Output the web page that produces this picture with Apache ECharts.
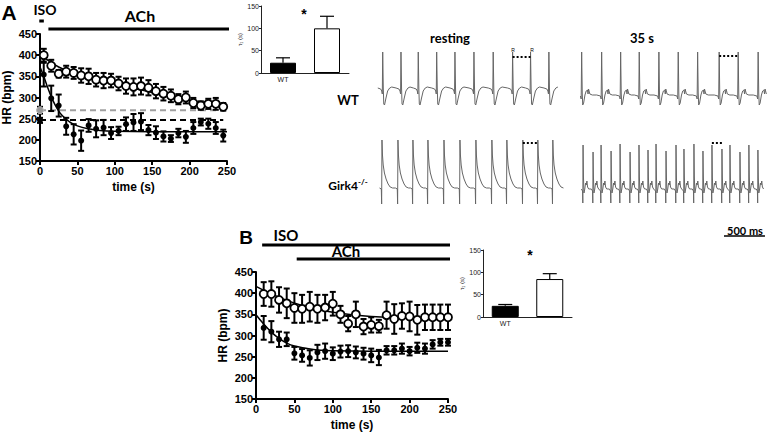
<!DOCTYPE html>
<html><head><meta charset="utf-8">
<script src="https://cdn.jsdelivr.net/npm/echarts@6/dist/echarts.min.js"></script>
<style>html,body{margin:0;padding:0;background:#fff}#c{width:768px;height:433px}</style>
</head><body><div id="c"></div>
<script>
// ---------- Panel A data ----------
const tA = [5,15,25,35,45,55,65,75,85,95,105,115,125,135,145,155,165,175,185,195,205,215,225,235,245];
const hrA_open = [400,375,356,361,358,352,350,342,340,340,333,327,325,327,323,315,309,304,296,300,287,281,285,285,278];
const errA_open = [15,14,9,14,14,17,18,16,18,16,16,18,20,20,18,17,16,15,12,14,12,10,12,14,9];
const hrA_fill = [354,298,281,232,213,198,234,226,229,216,221,237,241,243,223,217,208,203,216,207,228,242,238,228,210];
const errA_fill = [28,30,26,20,24,24,15,20,18,14,10,16,20,20,12,15,12,8,10,14,14,8,12,14,14];
const baseA_fill = [0, 246, 6];
const baseA_grey = [0, 270, 8];
const fitA_open = [[0,402],[25,372],[50,355],[100,332],[150,312],[200,293],[250,274]];
const fitA_fill = [[0,372],[5,350],[10,325],[15,302],[20,283],[25,268],[30,257],[40,242],[50,233],[65,226],[80,222],[100,220],[150,219],[250,219]];
const dashA_grey = [[0,270],[245,270]];
const dashA_black = [[0,247],[245,247]];
const isoA = [3, 9];
const achA = [15, 254];

// ---------- Panel B data ----------
const tB = [10,20,30,40,50,60,70,80,90,100,110,120,130,140,150,160,170,180,190,200,210,220,230,240,250];
const hrB_open = [398,398,384,376,365,363,368,363,366,375,350,328,350,321,325,322,348,339,346,345,337,343,343,343,343];
const errB_open = [28,30,30,35,35,33,35,33,30,28,20,18,30,18,18,15,32,35,30,35,35,30,30,30,30];
const hrB_fill = [318,309,291,291,258,253,247,260,263,257,262,263,260,257,253,248,265,265,269,263,271,269,279,284,284];
const errB_fill = [28,25,18,16,15,15,18,18,18,15,14,14,14,14,16,18,10,10,12,10,12,12,10,8,8];
const fitB_open = [[0,416],[20,398],[40,383],[60,371],[80,362],[100,355],[125,349],[150,345],[200,341],[250,340]];
const fitB_fill = [[0,349],[10,327],[20,308],[30,293],[40,282],[50,275],[65,270],[80,266],[100,264],[150,263],[250,263]];
const isoB = [8, 254];
const achB = [53, 254];

// ---------- Tau insets ----------
const tauCats = ['WT', 'Girk4'];
const tauA = [23, 100];
const tauA_err = [11, 27];
const tauB = [25, 85];
const tauB_err = [3, 12];

// ---------- ECG traces (ms, amplitude) ----------
const ecgSpan = 2320;
const peaksWTrest = [82,305,516,741,964,1196,1431,1668,1887,2111];
const peaksWT35 = [57,301,533,760,1000,1236,1473,1736,1968,2212];
const peaksGrest = [73,268,451,634,830,1025,1220,1415,1598,1793,1976,2159];
const peaksG35 = [73,195,293,415,525,647,756,866,964,1086,1208,1305,1427,1537,1647,1769,1867,1989,2098,2208];
const heightsG35 = [62,55,62,56,63,55,62,57,63,56,62,58,63,56,62,58,62,55,62,57];
const beatWTrest = [[-60,20],[-25,19],[-12,17],[-5,14],[0,56],[7,20],[13,4],[22,3],[40,10],[60,17],[85,20],[110,21]];
const beatWT35 = [[-60,13],[-15,12],[-6,9],[0,56],[7,15],[13,3],[24,5],[40,13],[55,17],[70,18],[78,14],[84,19],[100,14],[130,13]];
const beatGrest = [[-30,19],[-8,18],[-4,3],[0,67],[6,52],[15,42],[30,34],[50,28],[75,23],[100,20],[130,19]];
const beatG35 = [[-20,18],[-5,16],[-2,4],[1,62],[6,30],[12,14],[22,18],[32,24],[40,22],[48,26],[56,20],[70,18]];
const spanWTrest = [12, 2294];
const spanWT35 = [0, 2320];
const spanGrest = [12, 2294];
const spanG35 = [20, 2320];
const rrWTrest = [[1668,51],[1887,51]];
const rrWT35 = [[1736,52],[1968,52]];
const rrGrest = [[1793,64],[1976,64]];
const rrG35 = [[1647,64],[1769,64]];
const scaleBar = [[1795,-29],[2295,-29]];

function buildTrace(peaks, beat, span, heights) {
  const out = [];
  peaks.forEach((p, i) => {
    beat.forEach(([dt, v]) => {
      let val = v;
      if (heights && dt >= 0 && dt <= 2 && v > 40) val = heights[i];
      const t = p + dt;
      if (t >= span[0] && t <= span[1]) out.push([t, val]);
    });
  });
  return out;
}

function errSeries(xi, yi, data, cap, lw, upperOnly) {
  return {
    type: 'custom', xAxisIndex: xi, yAxisIndex: yi, data: data, z: 3, clip: false,
    renderItem: function (params, api) {
      const x = api.value(0), lo = api.value(1), hi = api.value(2);
      const a = api.coord([x, hi]), b = api.coord([x, lo]);
      const st = { stroke: '#000', lineWidth: lw };
      const ch = [
        { type: 'line', shape: { x1: a[0], y1: a[1], x2: b[0], y2: b[1] }, style: st },
        { type: 'line', shape: { x1: a[0] - cap / 2, y1: a[1], x2: a[0] + cap / 2, y2: a[1] }, style: st }
      ];
      if (!upperOnly) ch.push({ type: 'line', shape: { x1: b[0] - cap / 2, y1: b[1], x2: b[0] + cap / 2, y2: b[1] }, style: st });
      return { type: 'group', children: ch };
    }
  };
}

const F = 'Liberation Sans, Arial, sans-serif';
const FC = 'Lato, Open Sans, sans-serif';

function mainX(gi) {
  return {
    gridIndex: gi, type: 'value', min: 0, max: 250, interval: 50,
    name: 'time (s)', nameLocation: 'middle', nameGap: 20,
    nameTextStyle: { fontFamily: F, fontWeight: 'bold', fontSize: 12, color: '#000' },
    axisLine: { show: true, onZero: false, lineStyle: { color: '#000', width: 2 } },
    axisTick: { show: true, length: 4, lineStyle: { color: '#000', width: 2 } },
    axisLabel: { color: '#000', fontWeight: 'bold', fontSize: 11, fontFamily: F, margin: 4 },
    splitLine: { show: false }
  };
}
function mainY(gi) {
  return {
    gridIndex: gi, type: 'value', min: 150, max: 450, interval: 50,
    name: 'HR (bpm)', nameLocation: 'middle', nameGap: 27,
    nameTextStyle: { fontFamily: F, fontWeight: 'bold', fontSize: 12, color: '#000' },
    axisLine: { show: true, onZero: false, lineStyle: { color: '#000', width: 2 } },
    axisTick: { show: true, length: 4, lineStyle: { color: '#000', width: 2 } },
    axisLabel: { color: '#000', fontWeight: 'bold', fontSize: 11, fontFamily: F, margin: 3 },
    splitLine: { show: false }
  };
}
function hiddenX(gi, min, max) {
  return { gridIndex: gi, type: 'value', min: min, max: max, show: false };
}
function hiddenY(gi, min, max, inverse) {
  return { gridIndex: gi, type: 'value', min: min, max: max, show: false, inverse: !!inverse };
}
const supRich = { s: { fontSize: 5, verticalAlign: 'top', padding: [0, 0, 4, 0], fontFamily: F, color: '#222' }, n: { fontSize: 7, fontFamily: F, color: '#222' } };
function insetX(gi) {
  return {
    gridIndex: gi, type: 'category', data: tauCats,
    axisLine: { show: true, lineStyle: { color: '#222', width: 1 } },
    axisTick: { show: false },
    axisLabel: { margin: 3, formatter: v => v === 'Girk4' ? '{n|Girk4}{s|-/-}' : '{n|' + v + '}', rich: supRich },
    splitLine: { show: false }
  };
}
function insetY(gi) {
  return {
    gridIndex: gi, type: 'value', min: 0, max: 150, interval: 50,
    name: 'τ\u2081 (s)', nameLocation: 'middle', nameGap: 15,
    nameTextStyle: { fontFamily: F, fontSize: 6, color: '#222' },
    axisLine: { show: true, lineStyle: { color: '#222', width: 1 } },
    axisTick: { show: true, length: 2, lineStyle: { color: '#222', width: 1 } },
    axisLabel: { fontSize: 7, fontFamily: F, color: '#222', margin: 2 },
    splitLine: { show: false }
  };
}

const openStyle = { color: '#fff', borderColor: '#000', borderWidth: 1.8, opacity: 1 };
const fillStyle = { color: '#000', opacity: 1 };
const lineStyleFit = { color: '#000', width: 1.5 };

const series = [];
// Panel A (grid 0, axis 0)
series.push({ type: 'line', xAxisIndex: 0, yAxisIndex: 0, data: dashA_grey, showSymbol: false, lineStyle: { color: '#a0a0a0', width: 2, type: [6, 4] }, z: 1 });
series.push({ type: 'line', xAxisIndex: 0, yAxisIndex: 0, data: dashA_black, showSymbol: false, lineStyle: { color: '#000', width: 2, type: [6, 4] }, z: 1 });
series.push({ type: 'line', xAxisIndex: 0, yAxisIndex: 0, data: fitA_open, smooth: 0.4, showSymbol: false, lineStyle: lineStyleFit, z: 2 });
series.push({ type: 'line', xAxisIndex: 0, yAxisIndex: 0, data: fitA_fill, smooth: 0.4, showSymbol: false, lineStyle: lineStyleFit, z: 2 });
series.push(errSeries(0, 0, tA.map((t, i) => [t, hrA_open[i] - errA_open[i], hrA_open[i] + errA_open[i]]), 6, 2, false));
series.push(errSeries(0, 0, tA.map((t, i) => [t, hrA_fill[i] - errA_fill[i], hrA_fill[i] + errA_fill[i]]), 6, 2, false));
series.push(errSeries(0, 0, [[baseA_fill[0], baseA_fill[1] - baseA_fill[2], baseA_fill[1] + baseA_fill[2]], [baseA_grey[0], baseA_grey[1] - baseA_grey[2], baseA_grey[1] + baseA_grey[2]]], 6, 2, false));
series.push({ type: 'scatter', xAxisIndex: 0, yAxisIndex: 0, data: tA.map((t, i) => [t, hrA_fill[i]]), symbol: 'circle', symbolSize: 6, itemStyle: fillStyle, z: 4 });
series.push({ type: 'scatter', xAxisIndex: 0, yAxisIndex: 0, data: [[baseA_fill[0], baseA_fill[1]]], symbol: 'circle', symbolSize: 6, itemStyle: fillStyle, z: 4 });
series.push({ type: 'scatter', xAxisIndex: 0, yAxisIndex: 0, data: [[baseA_grey[0], baseA_grey[1]]], symbol: 'circle', symbolSize: 7, itemStyle: { color: '#999', borderColor: '#bbb', borderWidth: 1, opacity: 1 }, z: 4 });
series.push({ type: 'scatter', xAxisIndex: 0, yAxisIndex: 0, data: tA.map((t, i) => [t, hrA_open[i]]), symbol: 'circle', symbolSize: 8, itemStyle: openStyle, z: 5 });
// A annotation (grid 1, axis 1)
series.push({ type: 'line', xAxisIndex: 1, yAxisIndex: 1, data: [[isoA[0], 16], [isoA[1], 16]], showSymbol: false, clip: false, lineStyle: { color: '#000', width: 3 } });
series.push({ type: 'line', xAxisIndex: 1, yAxisIndex: 1, data: [[achA[0], 24], [achA[1], 24]], showSymbol: false, clip: false, lineStyle: { color: '#000', width: 3 } });
// A inset (grid 2, axis 2)
series.push({ type: 'bar', xAxisIndex: 2, yAxisIndex: 2, barWidth: 26,
  data: tauA.map((v, i) => ({ value: v, itemStyle: i === 0 ? { color: '#000', borderColor: '#000', borderWidth: 1 } : { color: '#fff', borderColor: '#000', borderWidth: 1 } })) });
series.push(errSeries(2, 2, tauA.map((v, i) => [i, v, v + tauA_err[i]]), 14, 1.2, true));
// Panel B (grid 3, axis 3)
series.push({ type: 'line', xAxisIndex: 3, yAxisIndex: 3, data: fitB_open, smooth: 0.4, showSymbol: false, lineStyle: lineStyleFit, z: 2 });
series.push({ type: 'line', xAxisIndex: 3, yAxisIndex: 3, data: fitB_fill, smooth: 0.4, showSymbol: false, lineStyle: lineStyleFit, z: 2 });
series.push(errSeries(3, 3, tB.map((t, i) => [t, hrB_open[i] - errB_open[i], hrB_open[i] + errB_open[i]]), 6, 2, false));
series.push(errSeries(3, 3, tB.map((t, i) => [t, hrB_fill[i] - errB_fill[i], hrB_fill[i] + errB_fill[i]]), 6, 2, false));
series.push({ type: 'scatter', xAxisIndex: 3, yAxisIndex: 3, data: tB.map((t, i) => [t, hrB_fill[i]]), symbol: 'circle', symbolSize: 6, itemStyle: fillStyle, z: 4 });
series.push({ type: 'scatter', xAxisIndex: 3, yAxisIndex: 3, data: tB.map((t, i) => [t, hrB_open[i]]), symbol: 'circle', symbolSize: 8, itemStyle: openStyle, z: 5 });
// B annotation (grid 4, axis 4)
series.push({ type: 'line', xAxisIndex: 4, yAxisIndex: 4, data: [[isoB[0], 15], [isoB[1], 15]], showSymbol: false, clip: false, lineStyle: { color: '#000', width: 3 } });
series.push({ type: 'line', xAxisIndex: 4, yAxisIndex: 4, data: [[achB[0], 29], [achB[1], 29]], showSymbol: false, clip: false, lineStyle: { color: '#000', width: 3 } });
// B inset (grid 5, axis 5)
series.push({ type: 'bar', xAxisIndex: 5, yAxisIndex: 5, barWidth: 27,
  data: tauB.map((v, i) => ({ value: v, itemStyle: i === 0 ? { color: '#000', borderColor: '#000', borderWidth: 1 } : { color: '#fff', borderColor: '#000', borderWidth: 1 } })) });
series.push(errSeries(5, 5, tauB.map((v, i) => [i, v, v + tauB_err[i]]), 14, 1.2, true));
// ECG traces (grids 6-9)
const ecgLine = { color: '#666', width: 1 };
const dotLine = { color: '#000', width: 2, type: [2, 2] };
[[6, peaksWTrest, beatWTrest, spanWTrest, null, rrWTrest],
 [7, peaksWT35, beatWT35, spanWT35, null, rrWT35],
 [8, peaksGrest, beatGrest, spanGrest, null, rrGrest],
 [9, peaksG35, beatG35, spanG35, heightsG35, rrG35]].forEach(([gi, pk, bt, sp, hts, rr]) => {
  series.push({ type: 'line', xAxisIndex: gi, yAxisIndex: gi, data: buildTrace(pk, bt, sp, hts), showSymbol: false, lineStyle: ecgLine, clip: false });
  series.push({ type: 'line', xAxisIndex: gi, yAxisIndex: gi, data: rr, showSymbol: false, lineStyle: dotLine, clip: false, z: 3 });
});
series.push({ type: 'line', xAxisIndex: 9, yAxisIndex: 9, data: scaleBar, showSymbol: false, lineStyle: { color: '#000', width: 1.5 }, clip: false });

const grid = [
  { left: 37, top: 34, width: 190, height: 127 },   // 0 A main
  { left: 37, top: 5, width: 190, height: 30 },     // 1 A annot
  { left: 261, top: 6, width: 88, height: 67 },     // 2 A inset
  { left: 256, top: 272, width: 192, height: 127 }, // 3 B main
  { left: 256, top: 230, width: 192, height: 40 },  // 4 B annot
  { left: 483, top: 250, width: 89, height: 67 },   // 5 B inset
  { left: 376, top: 48, width: 190, height: 60 },   // 6 WT rest
  { left: 577, top: 48, width: 190, height: 60 },   // 7 WT 35
  { left: 376, top: 135, width: 190, height: 72 },  // 8 G rest
  { left: 577, top: 135, width: 190, height: 72 }   // 9 G 35
];
const xAxis = [mainX(0), hiddenX(1, 0, 250), insetX(2), mainX(3), hiddenX(4, 0, 250), insetX(5),
  hiddenX(6, 0, ecgSpan), hiddenX(7, 0, ecgSpan), hiddenX(8, 0, ecgSpan), hiddenX(9, 0, ecgSpan)];
const yAxis = [mainY(0), hiddenY(1, 0, 30, true), insetY(2), mainY(3), hiddenY(4, 0, 40, true), insetY(5),
  hiddenY(6, 0, 60), hiddenY(7, 0, 60), hiddenY(8, 0, 72), hiddenY(9, 0, 72)];

function txt(x, y, text, size, weight, family) {
  return { type: 'text', x: x, y: y, style: { text: text, fontSize: size, fontWeight: weight || 'normal', fontFamily: family || F, fill: '#000', align: 'center', verticalAlign: 'middle' } };
}
const graphic = [
  txt(9, 12, 'A', 21, 'bold', F),
  txt(45, 9, 'ISO', 14, 'bold', FC),
  txt(140, 15, 'ACh', 16, 'bold', FC),
  txt(304, 14, '*', 14, 'bold', F),
  txt(450, 38, 'resting', 13, 'bold', FC),
  txt(642, 38, '35 s', 13, 'bold', FC),
  txt(348, 100, 'WT', 13, 'bold', FC),
  { type: 'text', x: 348, y: 185, style: { text: '{n|Girk4}{s|-/-}', align: 'center', verticalAlign: 'middle',
      rich: { n: { fontSize: 12, fontWeight: 'bold', fontFamily: FC, fill: '#000' }, s: { fontSize: 8, fontWeight: 'bold', fontFamily: FC, fill: '#000', verticalAlign: 'top', padding: [0, 0, 6, 0] } } } },
  txt(513, 50, 'R', 5, 'normal', F),
  txt(532, 50, 'R', 5, 'normal', F),
  txt(745, 230, '500 ms', 11, 'bold', FC),
  txt(246, 237, 'B', 19, 'bold', F),
  txt(286, 235, 'ISO', 15, 'bold', FC),
  txt(346, 251, 'ACh', 15, 'bold', FC),
  txt(530, 255, '*', 14, 'bold', F)
];

const chart = echarts.init(document.getElementById('c'), null, { renderer: 'svg', width: 768, height: 433 });
chart.setOption({
  animation: false,
  backgroundColor: '#fff',
  grid: grid, xAxis: xAxis, yAxis: yAxis, series: series, graphic: graphic
});
</script></body></html>
